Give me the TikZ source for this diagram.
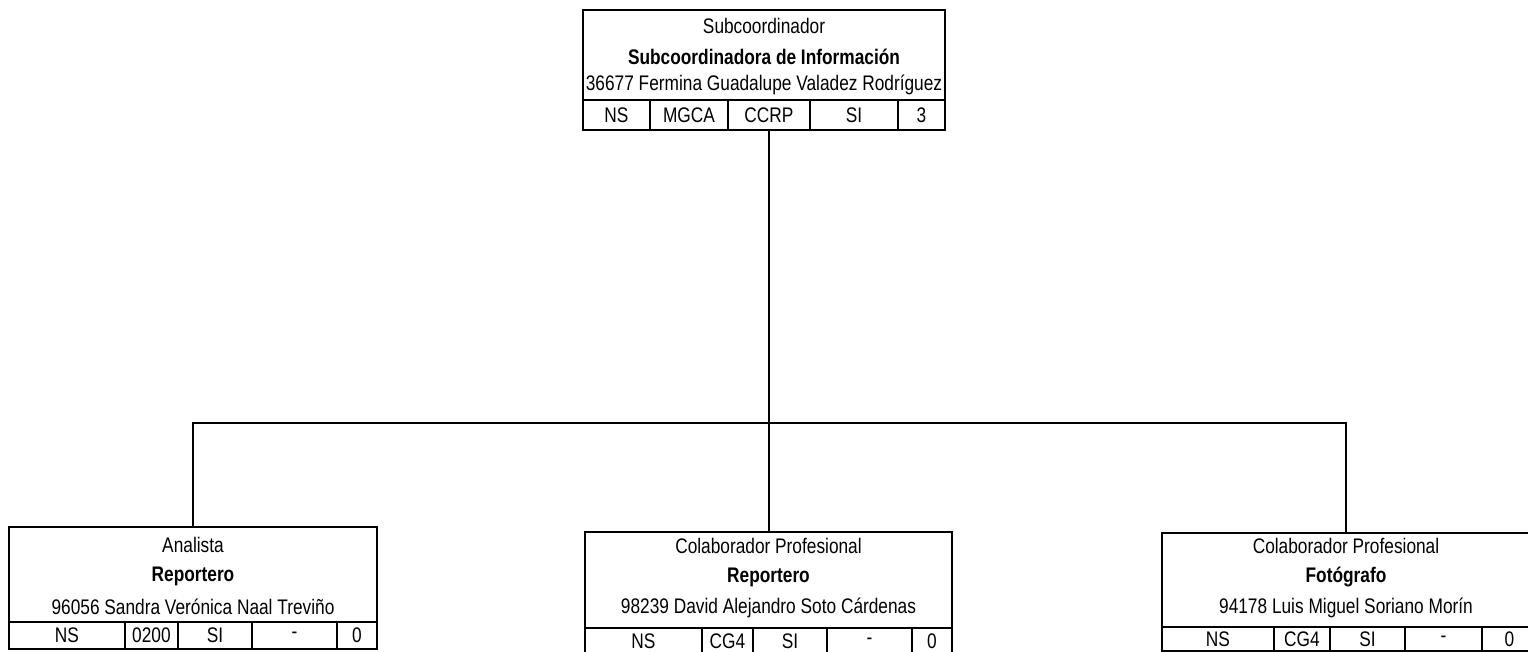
\documentclass[tikz,border=0pt]{standalone}
\usepackage{fontspec}
\setmainfont{Liberation Sans}[FakeStretch=0.82]
\usetikzlibrary{positioning}
\tikzset{
  caja/.style={draw,line width=1.5pt,inner sep=0pt,outer sep=0pt,anchor=north west},
  celda/.style={draw,line width=1.1pt,inner sep=0pt,outer sep=0pt,font=\fontsize{12}{14}\selectfont},
  texto/.style={inner sep=0pt,font=\fontsize{12}{14}\selectfont},
  linea/.style={line width=1.3pt}
}
\begin{document}
\begin{tikzpicture}[x=0.02cm,y=-0.02cm]
  \useasboundingbox (0,0) rectangle (1528,652);
  \clip (0,0) rectangle (1528,652);
  % subcoordinador
  \node[caja,minimum width=7.24cm,minimum height=2.4cm] (sub) at (583,10) {};
  \node[texto] (subpuesto) at (764,26) {Subcoordinador};
  \node[texto] (subarea) at (764,57) {\bfseries Subcoordinadora de Información};
  \node[texto] (subnombre) at (764,85) {36677 Fermina Guadalupe Valadez Rodríguez};
  \node[celda,minimum width=1.34cm,minimum height=0.6cm,anchor=north west] (s1) at (583,100) {NS};
  \node[celda,minimum width=1.56cm,minimum height=0.6cm,right=0pt of s1] (s2) {MGCA};
  \node[celda,minimum width=1.64cm,minimum height=0.6cm,right=0pt of s2] (s3) {CCRP};
  \node[celda,minimum width=1.76cm,minimum height=0.6cm,right=0pt of s3] (s4) {SI};
  \node[celda,minimum width=0.94cm,minimum height=0.6cm,right=0pt of s4] (s5) {3};
  % analista
  \node[caja,minimum width=7.36cm,minimum height=2.44cm] (ana) at (9,527) {};
  \node[texto] (anapuesto) at (193,545) {Analista};
  \node[texto] (anaarea) at (193,576) {\bfseries Reportero};
  \node[texto] (ananombre) at (193,607) {96056 Sandra Verónica Naal Treviño};
  \node[celda,minimum width=2.32cm,minimum height=0.54cm,anchor=north west] (a1) at (9,622) {NS};
  \node[celda,minimum width=1.06cm,minimum height=0.54cm,right=0pt of a1] (a2) {0200};
  \node[celda,minimum width=1.48cm,minimum height=0.54cm,right=0pt of a2] (a3) {SI};
  \node[celda,minimum width=1.70cm,minimum height=0.54cm,right=0pt of a3] (a4) {-};
  \node[celda,minimum width=0.80cm,minimum height=0.54cm,right=0pt of a4] (a5) {0};
  % reportero
  \node[caja,minimum width=7.34cm,minimum height=2.44cm] (rep) at (585,532) {};
  \node[texto] (reppuesto) at (768.5,546) {Colaborador Profesional};
  \node[texto] (reparea) at (768.5,577) {\bfseries Reportero};
  \node[texto] (repnombre) at (768.5,608) {98239 David Alejandro Soto Cárdenas};
  \node[celda,minimum width=2.34cm,minimum height=0.52cm,anchor=north west] (r1) at (585,628) {NS};
  \node[celda,minimum width=1.02cm,minimum height=0.52cm,right=0pt of r1] (r2) {CG4};
  \node[celda,minimum width=1.48cm,minimum height=0.52cm,right=0pt of r2] (r3) {SI};
  \node[celda,minimum width=1.70cm,minimum height=0.52cm,right=0pt of r3] (r4) {-};
  \node[celda,minimum width=0.80cm,minimum height=0.52cm,right=0pt of r4] (r5) {0};
  % fotografo
  \node[caja,minimum width=7.5cm,minimum height=2.36cm] (foto) at (1162,533) {};
  \node[texto] (fotopuesto) at (1346,546) {Colaborador Profesional};
  \node[texto] (fotoarea) at (1346,577) {\bfseries Fotógrafo};
  \node[texto] (fotonombre) at (1346,608) {94178 Luis Miguel Soriano Morín};
  \node[celda,minimum width=2.24cm,minimum height=0.48cm,anchor=north west] (f1) at (1162,627) {NS};
  \node[celda,minimum width=1.12cm,minimum height=0.48cm,right=0pt of f1] (f2) {CG4};
  \node[celda,minimum width=1.50cm,minimum height=0.48cm,right=0pt of f2] (f3) {SI};
  \node[celda,minimum width=1.54cm,minimum height=0.48cm,right=0pt of f3] (f4) {-};
  \node[celda,minimum width=1.10cm,minimum height=0.48cm,right=0pt of f4] (f5) {0};
  % lineas
  \coordinate (bus) at (0,423);
  \draw[linea] (s3.south) -- (s3.south |- rep.north);
  \draw[linea] (ana.north) |- (fotopuesto |- bus) -- (fotopuesto |- foto.north);
\end{tikzpicture}
\end{document}
